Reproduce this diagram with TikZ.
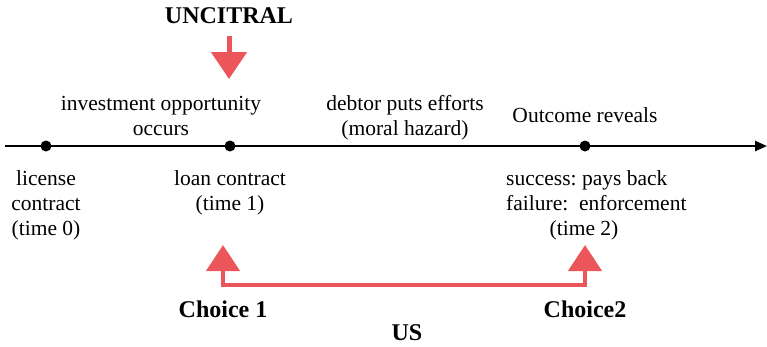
\documentclass[tikz,border=0pt]{standalone}
\usepackage{fontspec}
\setmainfont{Liberation Serif}
\usetikzlibrary{arrows.meta}
\definecolor{mkred}{RGB}{236,86,90}
\frenchspacing
\begin{document}
\begin{tikzpicture}[x=1pt,y=-1pt,
  txt/.style={inner sep=0pt,font=\fontsize{21.5}{25}\selectfont,align=center},
  btxt/.style={inner sep=0pt,font=\fontsize{24}{28}\selectfont\bfseries},
  dot/.style={circle,fill=black,inner sep=0pt,minimum size=11pt},
  redarrow/.style={draw=mkred,line width=4.5pt,{Triangle[length=26pt,width=33pt]}-{Triangle[length=26pt,width=33pt]}},
  redarrowdown/.style={draw=mkred,line width=5pt,-{Triangle[length=27pt,width=35pt]}}]
\useasboundingbox (0,0) rectangle (767,346);
% timeline
\coordinate (tl0) at (5,146);
\coordinate (tl1) at (767,146);
\draw[line width=2.4pt,-{Triangle[length=12pt,width=10pt]}] (tl0) -- (tl1);
\node[dot] (d0) at (46,146) {};
\node[dot] (d1) at (230,146) {};
\node[dot] (d2) at (585,146) {};
% top labels
\node[btxt,anchor=base] (unc) at (229,23) {UNCITRAL};
\coordinate (uncs) at (229,36);
\coordinate (unce) at (229,79);
\draw[redarrowdown] (uncs) -- (unce);
\node[txt,anchor=base] (inv) at (161,135) {investment opportunity\\occurs};
\node[txt,anchor=base] (deb) at (405,135) {debtor puts efforts\\(moral hazard)};
\node[txt,anchor=base] (out) at (585,122) {Outcome reveals};
% bottom labels
\node[txt,anchor=base] (lic) at (46,235) {license\\contract\\(time 0)};
\node[txt,anchor=base] (loan) at (230,210) {loan contract\\(time 1)};
\node[txt,anchor=base west,align=left] (succ) at (506,210) {success: pays back\\failure:\ \ enforcement};
\node[txt,anchor=base] (t2) at (584,235) {(time 2)};
% choice arrows
\coordinate (c1tip) at (223,245);
\coordinate (c2tip) at (585,245);
\coordinate (c1b) at (223,285);
\coordinate (c2b) at (585,285);
\draw[redarrow] (c1tip) -- (c1b) -- (c2b) -- (c2tip);
\node[btxt,anchor=base] (ch1) at (223,317) {Choice 1};
\node[btxt,anchor=base] (ch2) at (585,317) {Choice2};
\node[btxt,anchor=base] (us) at (407,340) {US};
\end{tikzpicture}
\end{document}
